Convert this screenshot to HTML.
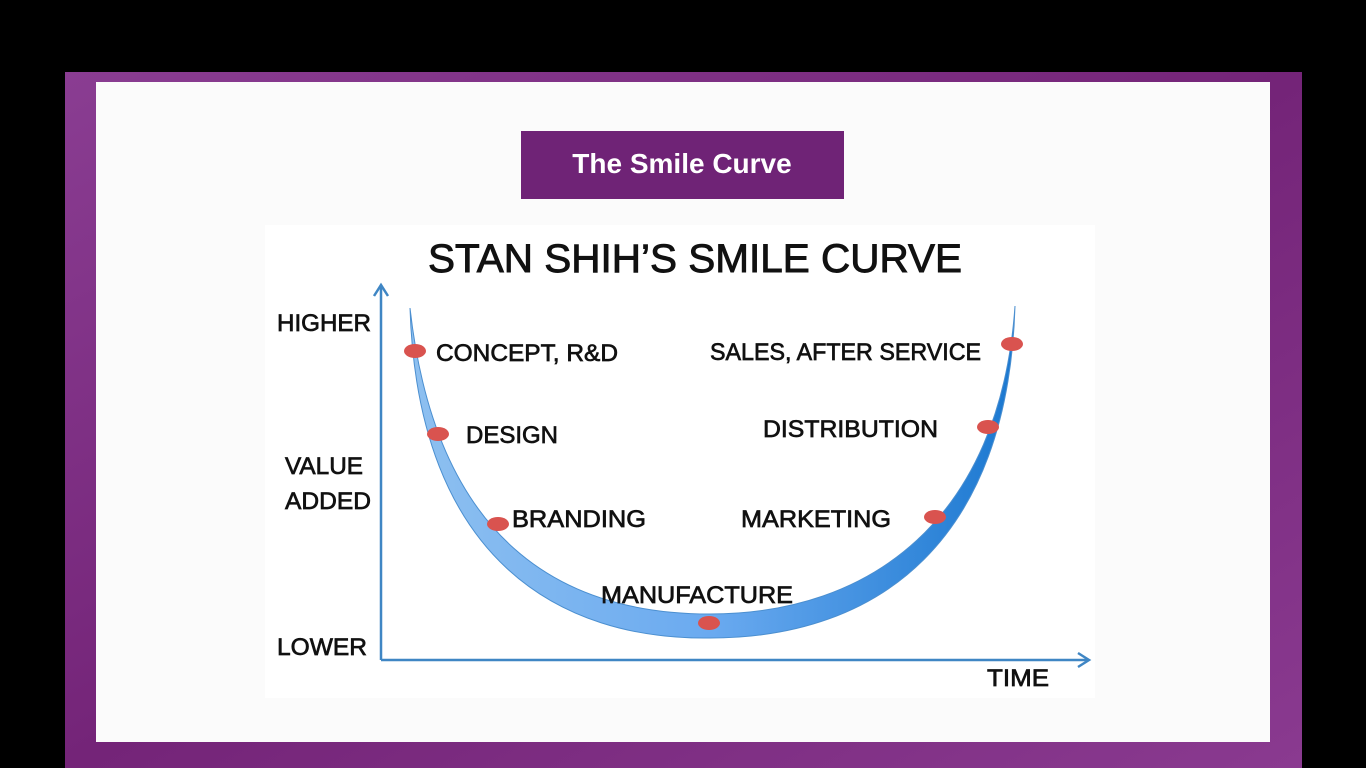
<!DOCTYPE html>
<html><head><meta charset="utf-8"><style>
html,body{margin:0;padding:0;background:#000;width:1366px;height:768px;overflow:hidden}
</style></head><body>
<svg width="1366" height="768" viewBox="0 0 1366 768" xmlns="http://www.w3.org/2000/svg" font-family="Liberation Sans, sans-serif">
<defs>
<linearGradient id="pf" x1="0" y1="0" x2="1" y2="1">
<stop offset="0" stop-color="#8a3d92"/><stop offset="0.5" stop-color="#742478"/><stop offset="1" stop-color="#8a3a90"/>
</linearGradient>
<linearGradient id="band" x1="0" y1="0" x2="1" y2="0">
<stop offset="0" stop-color="#8ec0f0"/><stop offset="0.5" stop-color="#6aaaf0"/><stop offset="1" stop-color="#1b78d0"/>
</linearGradient>
</defs>
<rect x="0" y="0" width="1366" height="768" fill="#000"/>
<rect x="65" y="72" width="1237" height="696" fill="url(#pf)"/>
<rect x="96" y="82" width="1174" height="660" fill="#fbfbfb"/>
<rect x="265" y="225" width="830" height="473" fill="#fff"/>
<rect x="521" y="131" width="323" height="68" fill="#6f2376"/>
<text x="682" y="173" text-anchor="middle" font-size="28" font-weight="bold" fill="#fff">The Smile Curve</text>
<text x="695" y="272" text-anchor="middle" font-size="40" fill="#111" stroke="#111" stroke-width="0.9" textLength="534" lengthAdjust="spacingAndGlyphs">STAN SHIH’S SMILE CURVE</text>
<g stroke="#3f86c4" stroke-width="2.5" fill="none">
<line x1="381" y1="660" x2="381" y2="287"/>
<line x1="381" y1="660" x2="1087" y2="660"/>
<polyline points="374,296 381,285 388,296"/>
<polyline points="1078,653 1089,660 1078,667"/>
</g>
<path d="M410,308 C418,560 560,640 710,638 C880,638 1008,540 1015,306 C1000,520 870,614 710,614 C560,614 436,540 410,308 Z" fill="url(#band)" stroke="#4b8fd0" stroke-width="1"/>
<g fill="#d9534f">
<ellipse cx="415" cy="351" rx="11" ry="7"/>
<ellipse cx="438" cy="434" rx="11" ry="7"/>
<ellipse cx="498" cy="524" rx="11" ry="7"/>
<ellipse cx="709" cy="623" rx="11" ry="7"/>
<ellipse cx="935" cy="517" rx="11" ry="7"/>
<ellipse cx="988" cy="427" rx="11" ry="7"/>
<ellipse cx="1012" cy="344" rx="11" ry="7"/>
</g>
<g font-size="24" fill="#111" stroke="#111" stroke-width="0.7">
<text x="277" y="331" textLength="94" lengthAdjust="spacingAndGlyphs">HIGHER</text>
<text x="285" y="474" textLength="78" lengthAdjust="spacingAndGlyphs">VALUE</text>
<text x="285" y="509" textLength="86" lengthAdjust="spacingAndGlyphs">ADDED</text>
<text x="277" y="655" textLength="90" lengthAdjust="spacingAndGlyphs">LOWER</text>
<text x="987" y="686" textLength="62" lengthAdjust="spacingAndGlyphs">TIME</text>
<text x="436" y="361" textLength="182" lengthAdjust="spacingAndGlyphs">CONCEPT, R&amp;D</text>
<text x="466" y="443" textLength="92" lengthAdjust="spacingAndGlyphs">DESIGN</text>
<text x="512" y="527" textLength="134" lengthAdjust="spacingAndGlyphs">BRANDING</text>
<text x="601" y="603" textLength="192" lengthAdjust="spacingAndGlyphs">MANUFACTURE</text>
<text x="741" y="527" textLength="150" lengthAdjust="spacingAndGlyphs">MARKETING</text>
<text x="763" y="437" textLength="175" lengthAdjust="spacingAndGlyphs">DISTRIBUTION</text>
<text x="710" y="360" textLength="271" lengthAdjust="spacingAndGlyphs">SALES, AFTER SERVICE</text>
</g>
</svg>
</body></html>
